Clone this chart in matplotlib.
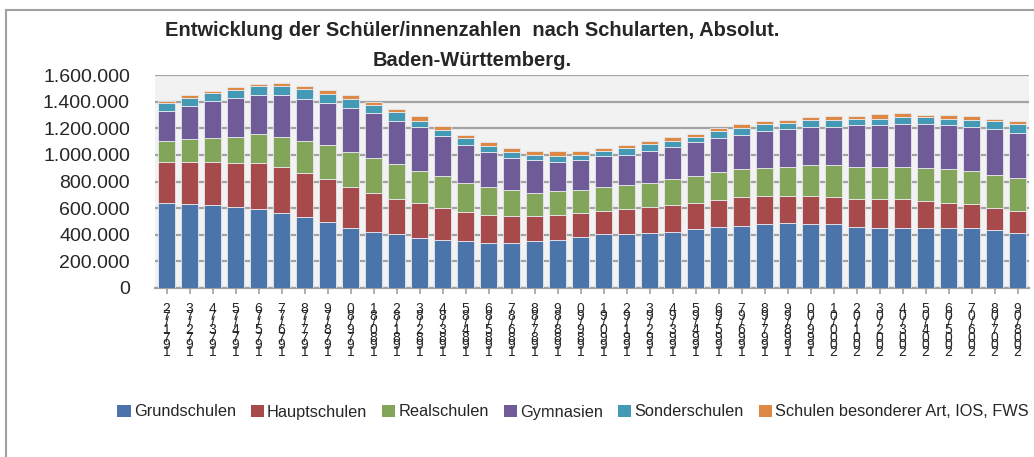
import matplotlib
matplotlib.use("Agg")
import matplotlib.pyplot as plt
from matplotlib import font_manager
from matplotlib.patches import Patch
from matplotlib.lines import Line2D
import numpy as np

# ---- data (thousands) ----
years = ["1971/72", "1972/73", "1973/74", "1974/75", "1975/76", "1976/77", "1977/78",
         "1978/79", "1979/80", "1980/81", "1981/82", "1982/83", "1983/84", "1984/85",
         "1985/86", "1986/87", "1987/88", "1988/89", "1989/90", "1990/91", "1991/92",
         "1992/93", "1993/94", "1994/95", "1995/96", "1996/97", "1997/98", "1998/99",
         "1999/00", "2000/01", "2001/02", "2002/03", "2003/04", "2004/05", "2005/06",
         "2006/07", "2007/08", "2008/09"]
grundschulen = [635, 632, 620, 609, 590, 560, 530, 499, 454, 421, 404, 374, 364, 354,
                341, 341, 351, 361, 384, 404, 404, 414, 421, 444, 457, 469, 479, 489,
                477, 477, 457, 447, 447, 447, 447, 447, 436, 414]
hauptschulen = [313, 316, 328, 331, 350, 350, 337, 319, 301, 294, 265, 265, 238, 215,
                206, 198, 188, 188, 176, 175, 186, 195, 199, 195, 205, 215, 213, 203,
                215, 207, 215, 218, 218, 205, 192, 185, 166, 165]
realschulen = [158, 168, 178, 196, 218, 226, 236, 255, 268, 258, 261, 239, 236, 216,
               208, 196, 173, 176, 175, 176, 185, 176, 198, 199, 208, 209, 208, 218,
               231, 237, 238, 245, 245, 248, 252, 248, 246, 251]
gymnasien = [225, 253, 278, 289, 289, 311, 320, 319, 331, 339, 326, 329, 305, 288,
             268, 243, 249, 223, 226, 236, 223, 246, 243, 256, 256, 253, 276, 281,
             284, 288, 312, 312, 321, 331, 331, 329, 348, 336]
sonderschulen = [61, 58, 63, 62, 72, 72, 74, 65, 63, 60, 66, 49, 43, 53,
                 41, 45, 39, 43, 37, 40, 53, 50, 42, 42, 50, 53, 53, 50,
                 52, 50, 49, 49, 51, 51, 49, 50, 56, 63]
besondere = [10, 20, 10, 20, 11, 18, 20, 30, 30, 25, 20, 36, 33, 20,
             32, 30, 26, 35, 28, 22, 22, 25, 33, 22, 28, 32, 23, 20,
             23, 35, 21, 33, 30, 19, 30, 33, 19, 23]

series_names = ["Grundschulen", "Hauptschulen", "Realschulen", "Gymnasien",
                "Sonderschulen", "Schulen besonderer Art, IOS, FWS"]
series_values = [grundschulen, hauptschulen, realschulen, gymnasien, sonderschulen, besondere]
colors = ["#4A74AA", "#A64A4B", "#82A55A", "#6F5B98", "#4499B4", "#DD8844"]
yticks = [0, 200000, 400000, 600000, 800000, 1000000, 1200000, 1400000, 1600000]
ytick_labels = ["0", "200.000", "400.000", "600.000", "800.000", "1.000.000",
                "1.200.000", "1.400.000", "1.600.000"]

# ---- fonts ----
names = {f.name for f in font_manager.fontManager.ttflist}
narrow = "Liberation Sans Narrow" if "Liberation Sans Narrow" in names else "Liberation Sans"
plt.rcParams["font.family"] = ["Liberation Sans", "DejaVu Sans"]

fig = plt.figure(figsize=(10.34, 4.57), dpi=100)
ax = fig.add_axes([155 / 1034, 1 - 288 / 457, (1029 - 155) / 1034, (288 - 75) / 457])
ax.set_facecolor("#F2F2F2")

x = np.arange(len(years))
bottom = np.zeros(len(years))
for name, vals, c in zip(series_names, series_values, colors):
    v = np.array(vals, dtype=float) * 1000
    ax.bar(x, v, bottom=bottom, width=0.7, color=c, edgecolor="#E8E8EE",
           linewidth=0.6, zorder=3, label=name)
    bottom += v

ax.set_xlim(-0.5, len(years) - 0.5)
ax.set_ylim(0, 1600000)
ax.set_yticks(yticks)
ax.set_yticklabels(ytick_labels, fontsize=14, color="#262626")
ax.yaxis.grid(True, color="#A3A3A3", linewidth=1.6, zorder=1)
ax.set_axisbelow(True)
ax.tick_params(axis="y", length=0, pad=18)

stacked = ["\n".join(reversed(lbl)) for lbl in years]
ax.set_xticks(x)
ax.set_xticklabels(stacked, fontsize=10, linespacing=0.38, color="#262626", va="top")
ax.tick_params(axis="x", length=4, width=1.2, color="#A0A0A0", pad=6)

for s in ["top", "right", "left"]:
    ax.spines[s].set_visible(False)
ax.spines["bottom"].set_color("#A0A0A0")
ax.spines["bottom"].set_linewidth(1.6)

fig.text(472 / 1034, 1 - 30 / 457, "Entwicklung der Schüler/innenzahlen  nach Schularten, Absolut.",
         ha="center", va="center", fontsize=14.5, fontweight="bold", family=narrow, color="#262626")
fig.text(472 / 1034, 1 - 60 / 457, "Baden-Württemberg.",
         ha="center", va="center", fontsize=14.5, fontweight="bold", family=narrow, color="#262626")

handles = [Patch(facecolor=c, edgecolor="none") for c in colors]
fig.legend(handles, series_names, loc="center", bbox_to_anchor=(573 / 1034, 1 - 412 / 457),
           ncol=6, frameon=False, prop={"family": narrow, "size": 11.8},
           handlelength=0.8, handleheight=0.8, handletextpad=0.2, columnspacing=0.9,
           labelcolor="#262626")

# outer frame: only top and left edges visible
fig.add_artist(Line2D([6 / 1034, 1], [1 - 10 / 457, 1 - 10 / 457], transform=fig.transFigure,
                      color="#A0A0A0", linewidth=1.5))
fig.add_artist(Line2D([6 / 1034, 6 / 1034], [0, 1 - 10 / 457], transform=fig.transFigure,
                      color="#A0A0A0", linewidth=1.5))

fig.savefig("out.png", dpi=100)
